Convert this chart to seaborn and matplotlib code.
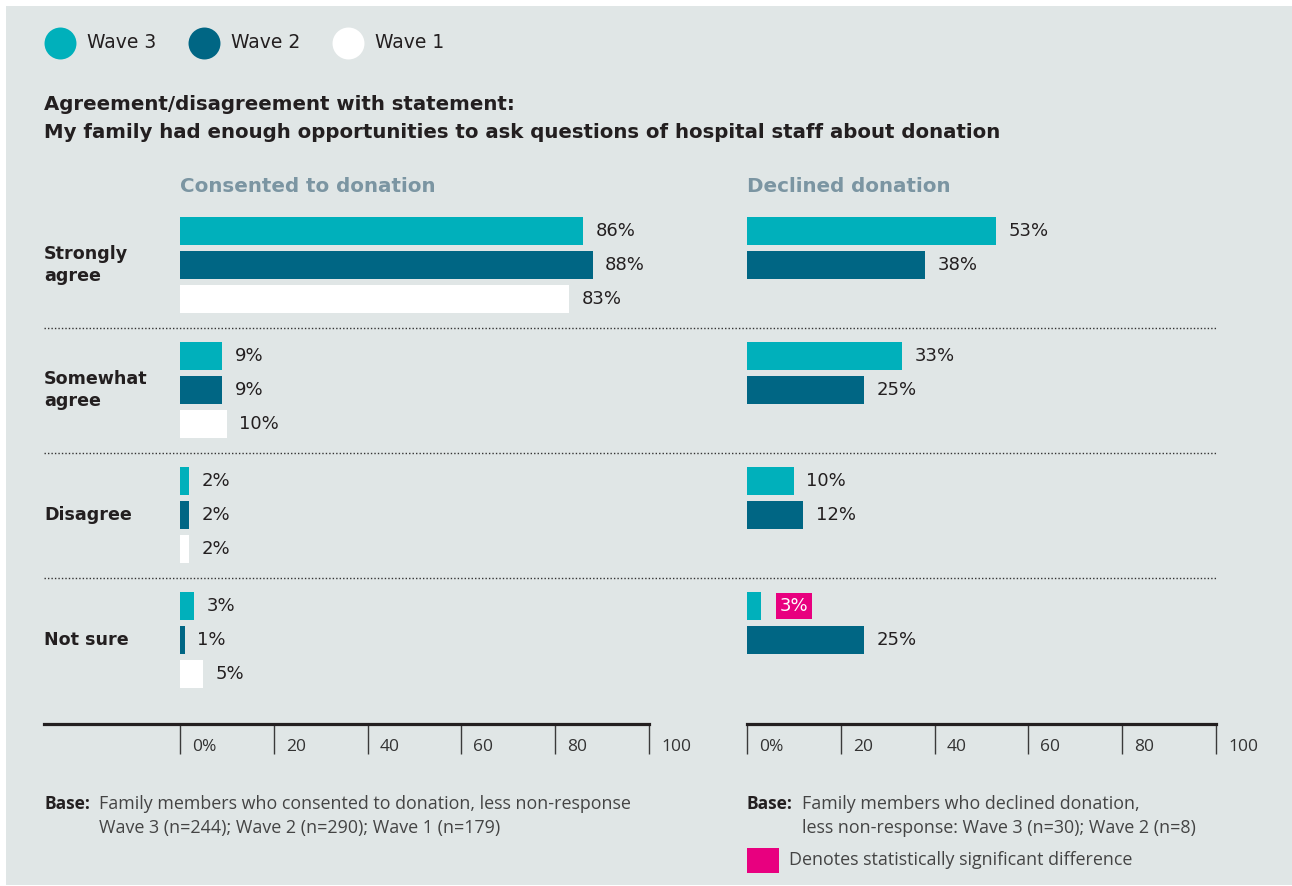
import matplotlib
matplotlib.use("Agg")
import matplotlib.pyplot as plt
import matplotlib.transforms as mtransforms
from matplotlib.lines import Line2D
from matplotlib.patches import Rectangle
import seaborn as sns
import pandas as pd

# ---- data -------------------------------------------------------------
responses = ["Strongly\nagree", "Somewhat\nagree", "Disagree", "Not sure"]
waves = ["Wave 3", "Wave 2", "Wave 1"]

consented_w3 = [86, 9, 2, 3]
consented_w2 = [88, 9, 2, 1]
consented_w1 = [83, 10, 2, 5]

declined_w3 = [53, 33, 10, 3]
declined_w2 = [38, 25, 12, 25]

# (response index, wave) flagged as a statistically significant difference
declined_significant = [(3, "Wave 3")]

x_ticks = [0, 20, 40, 60, 80, 100]
x_tick_labels = ["0%", "20", "40", "60", "80", "100"]

panel_titles = ["Consented to donation", "Declined donation"]
title_lines = [
    "Agreement/disagreement with statement:",
    "My family had enough opportunities to ask questions of hospital staff about donation",
]

# ---- styling ----------------------------------------------------------
BG = "#e0e6e6"
C_W3 = "#00b0bb"
C_W2 = "#006684"
C_W1 = "#ffffff"
PINK = "#e8007f"
INK = "#231f20"
PANEL_TITLE = "#7b95a2"
palette = {"Wave 3": C_W3, "Wave 2": C_W2, "Wave 1": C_W1}

HEAD_FONT = ["DejaVu Sans"]
NOTE_FONT = ["Open Sans", "DejaVu Sans"]

W, H = 1292, 886
DPI = 100

sns.set_theme(style="white")
plt.rcParams["font.family"] = ["Open Sans", "DejaVu Sans"]

fig = plt.figure(figsize=(W / DPI, H / DPI), dpi=DPI, facecolor="white")


def fx(px):
    return px / W


def fy(py):
    return 1 - py / H


# grey card behind everything
fig.add_artist(Rectangle((fx(6), fy(885)), fx(1292) - fx(6), fy(6) - fy(885),
                         transform=fig.transFigure, facecolor=BG,
                         edgecolor="none", zorder=-10))


def long_form(values_by_wave):
    rows = []
    for wave, vals in values_by_wave.items():
        for resp, v in zip(responses, vals):
            rows.append({"response": resp, "wave": wave, "pct": v})
    return pd.DataFrame(rows)


consented = long_form({"Wave 3": consented_w3, "Wave 2": consented_w2,
                       "Wave 1": consented_w1})
declined = long_form({"Wave 3": declined_w3, "Wave 2": declined_w2})

ax_top, ax_bottom = 200, 724
ax_l = fig.add_axes([fx(44), fy(ax_bottom), fx(649) - fx(44), fy(ax_top) - fy(ax_bottom)])
ax_r = fig.add_axes([fx(747), fy(ax_bottom), fx(1216) - fx(747), fy(ax_top) - fy(ax_bottom)])

panels = [(ax_l, consented, -29.0), (ax_r, declined, 0.0)]

for ax, df, xmin in panels:
    ax.set_facecolor("none")
    sns.barplot(data=df, x="pct", y="response", hue="wave", order=responses,
                hue_order=waves, palette=palette, orient="h", width=0.816,
                gap=0.2, saturation=1, linewidth=0, legend=False, ax=ax,
                errorbar=None)
    ax.set_xlim(xmin, 100)
    ax.set_ylim(3.672, -0.52)
    ax.set_xlabel("")
    ax.set_ylabel("")
    ax.set_yticks([])
    for side in ["top", "right", "left"]:
        ax.spines[side].set_visible(False)
    ax.spines["bottom"].set_linewidth(2.3)
    ax.spines["bottom"].set_color(INK)
    ax.set_xticks(x_ticks)
    ax.tick_params(axis="x", direction="out", length=21.5, width=1.0,
                   color="#3a3a3a", labelbottom=False, bottom=True)
    tr = mtransforms.blended_transform_factory(ax.transData, ax.transAxes)
    for t, lab in zip(x_ticks, x_tick_labels):
        ax.annotate(lab, xy=(t, 0), xycoords=tr, xytext=(8.6, -16.5),
                    textcoords="offset points", ha="left", va="center",
                    fontsize=12.5, color="#333333", family=NOTE_FONT)

# value labels on the bars
for ax, flagged in [(ax_l, []), (ax_r, declined_significant)]:
    for wave, cont in zip(waves, ax.containers):
        labels = ax.bar_label(cont, fmt="{:.0f}%", padding=9, fontsize=13,
                              color=INK, family=HEAD_FONT)
        for i, txt in enumerate(labels):
            if (i, wave) in flagged:
                txt.set_color("white")
                txt.set_bbox(dict(boxstyle="square,pad=0.2", facecolor=PINK,
                                  edgecolor="none"))
                txt.xyann = (txt.xyann[0] + 4.5, txt.xyann[1])

# category labels
tr_cat = mtransforms.blended_transform_factory(ax_l.transAxes, ax_l.transData)
for i, resp in enumerate(responses):
    ax_l.text(0, i, resp, transform=tr_cat, ha="left", va="center",
              fontsize=12.6, fontweight="bold", color=INK, linespacing=1.35,
              family=HEAD_FONT)

# dotted separators between response groups
tr_sep = mtransforms.blended_transform_factory(fig.transFigure, ax_l.transData)
for yv in [0.5, 1.5, 2.5]:
    fig.add_artist(Line2D([fx(44), fx(1217)], [yv, yv], transform=tr_sep,
                          color="#333333", linewidth=1.0, linestyle=(0, (1, 1.5))))

# panel titles
for px, title in zip([180, 747], panel_titles):
    fig.text(fx(px), fy(186), title, ha="left", va="center", fontsize=14.3,
             fontweight="bold", color=PANEL_TITLE, family=HEAD_FONT)

# chart title
for py, line in zip([104, 132], title_lines):
    fig.text(fx(44), fy(py), line, ha="left", va="center", fontsize=14.2,
             fontweight="bold", color=INK, family=HEAD_FONT)

# legend: a dot and a name for each wave
legend_x = [60, 204, 348]
for px, w in zip(legend_x, waves):
    fig.add_artist(Line2D([fx(px)], [fy(43)], transform=fig.transFigure,
                          marker="o", linestyle="", markersize=23,
                          markerfacecolor=palette[w], markeredgecolor="none"))
    fig.text(fx(px + 27), fy(43), w, ha="left", va="center", fontsize=13.5,
             color=INK, family=HEAD_FONT)

# base notes
fig.text(fx(44), fy(804), "Base:", ha="left", va="center", fontsize=12.5,
         fontweight="bold", color=INK, family=NOTE_FONT)
fig.text(fx(99), fy(804), "Family members who consented to donation, less non-response",
         ha="left", va="center", fontsize=12.9, color="#444444", family=NOTE_FONT)
fig.text(fx(99), fy(828), "Wave 3 (n=244); Wave 2 (n=290); Wave 1 (n=179)",
         ha="left", va="center", fontsize=12.9, color="#444444", family=NOTE_FONT)

fig.text(fx(747), fy(804), "Base:", ha="left", va="center", fontsize=12.5,
         fontweight="bold", color=INK, family=NOTE_FONT)
fig.text(fx(802), fy(804), "Family members who declined donation,",
         ha="left", va="center", fontsize=12.9, color="#444444", family=NOTE_FONT)
fig.text(fx(802), fy(828), "less non-response: Wave 3 (n=30); Wave 2 (n=8)",
         ha="left", va="center", fontsize=12.9, color="#444444", family=NOTE_FONT)

fig.add_artist(Rectangle((fx(747), fy(873)), fx(779) - fx(747), fy(848) - fy(873),
                         transform=fig.transFigure, facecolor=PINK,
                         edgecolor="none"))
fig.text(fx(789), fy(860), "Denotes statistically significant difference",
         ha="left", va="center", fontsize=12.9, color="#444444", family=NOTE_FONT)

fig.savefig("out.png", dpi=DPI, facecolor="white")
